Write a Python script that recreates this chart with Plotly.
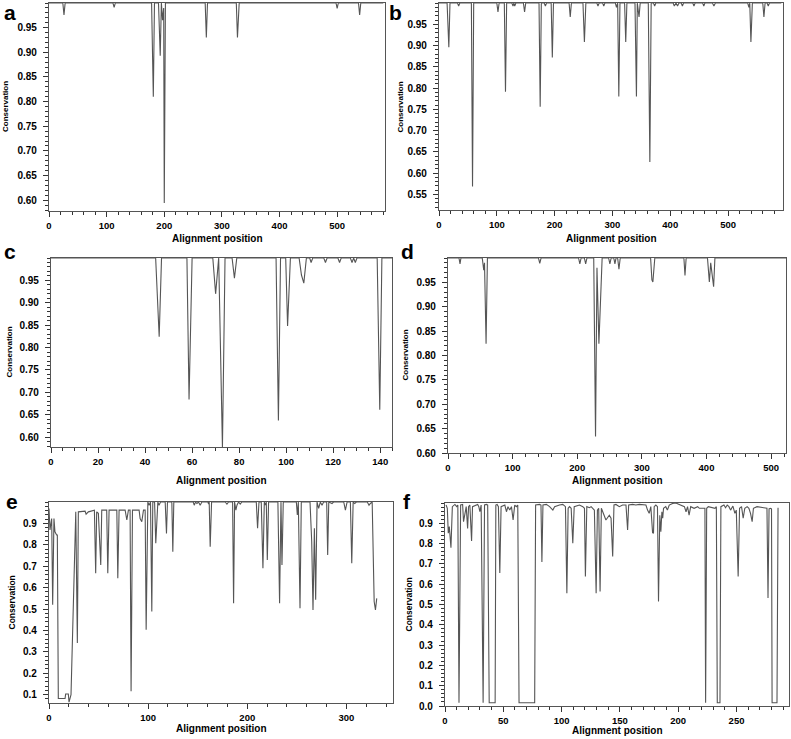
import plotly.graph_objects as go

W, H = 791, 739
FONT = "Liberation Sans, Arial, sans-serif"

# ---------------- data (alignment position, conservation) ----------------
a_pos = [0, 24, 26, 28, 111, 113, 115, 178, 181, 183, 190, 193, 195, 197, 199, 200, 202,
         271, 273, 275, 325, 327, 330, 498, 500, 502, 537, 539, 541, 580]
a_cons = [1, 1, 0.976, 1, 1, 0.991, 1, 1, 0.810, 1, 1, 0.893, 1, 0.965, 0.99, 0.594, 1,
          1, 0.930, 1, 1, 0.930, 1, 1, 0.989, 1, 1, 0.976, 1, 1]

b_pos = [0, 14, 17, 19, 32, 34, 36, 56, 58, 60, 100, 102, 104, 113, 115, 117, 126, 128, 129.5,
         131, 133, 146, 148, 150, 173, 175, 177, 182, 184, 186, 194, 196, 198, 225, 227, 229,
         249, 251.5, 254, 273, 275, 277, 283, 285, 287, 305, 307, 309, 311, 313, 321, 323, 325,
         339, 341.5, 343, 346, 348, 362, 364.7, 367, 371, 373, 375, 405, 407, 410, 412.6, 415,
         419, 421, 423, 439, 441, 443, 456, 458, 460, 473, 475.5, 478, 534, 536, 537.5, 539.5,
         542, 560, 562, 564, 567.5, 569.5, 571.5, 592]
b_cons = [1, 1, 0.896, 1, 1, 0.993, 1, 1, 0.568, 1, 1, 0.979, 1, 1, 0.791, 1, 1, 0.993, 1,
          0.993, 1, 1, 0.979, 1, 1, 0.756, 1, 1, 0.993, 1, 1, 0.872, 1, 1, 0.967, 1,
          1, 0.908, 1, 1, 0.993, 1, 1, 0.993, 1, 1, 0.99, 1, 0.780, 1, 1, 0.908, 1,
          1, 0.780, 1, 0.967, 1, 1, 0.626, 1, 1, 0.993, 1, 1, 0.993, 1, 0.993, 1,
          1, 0.993, 1, 1, 0.993, 1, 1, 0.993, 1, 1, 0.993, 1, 1, 0.99, 1, 0.908,
          1, 1, 0.967, 1, 1, 0.993, 1, 1]

c_pos = [0, 44.5, 46, 47, 57.8, 58.7, 60, 68.8, 70, 71.3, 72.9, 74, 77, 78, 79, 95.7, 96.7, 97.6,
         99.8, 100.6, 101.8, 105.5, 106.5, 107.5, 108.6, 110, 110.6, 111.3, 116, 116.7, 117.4,
         122, 122.7, 123.4, 127.3, 128, 128.7, 129.4, 130.1, 138.7, 139.8, 140.7, 145]
c_cons = [1, 1, 0.824, 1, 1, 0.684, 1, 1, 0.920, 1, 0.578, 1, 1, 0.955, 1, 1, 0.637, 1,
          1, 0.848, 1, 1, 0.962, 0.944, 1, 1, 0.99, 1, 1, 0.99, 1,
          1, 0.99, 1, 1, 0.99, 1, 0.99, 1, 1, 0.661, 1, 1]

d_pos = [0, 17, 18.6, 20, 53, 55.3, 56.5, 58.9, 61, 140, 142, 144, 202, 204, 206, 211, 213, 215,
         225.5, 228.3, 230.5, 233.5, 238.5, 248.5, 250.5, 252.5, 256.5, 258.3, 260, 262.5,
         264.5, 266.5, 313.5, 315.5, 317, 320, 365, 366.7, 368.5, 401.5, 404.4, 406.5, 411,
         413, 523]
d_cons = [1, 1, 0.988, 1, 1, 0.975, 0.99, 0.824, 1, 1, 0.989, 1, 1, 0.988, 1, 1, 0.988, 1,
          1, 0.634, 0.98, 0.824, 1, 1, 0.988, 1, 1, 0.988, 1, 1,
          0.977, 1, 1, 0.955, 0.951, 1, 1, 0.964, 1, 1, 0.951, 0.99, 0.941,
          1, 1]

e_pos = [0, 1, 2.7, 3.7, 5, 6, 7.7, 8.4, 9.4, 16.2, 16.8, 19.5, 20.2, 22.2, 27, 28.6, 29.6,
         36.4, 37.4, 39.7, 45.8, 47.1, 48.1, 49.8, 52.2, 53.2, 58.2, 59.3, 60.6, 68.4, 69.4,
         70.7, 76.8, 78.5, 80.1, 81.8, 82.8, 84.2, 90.9, 91.9, 93.6, 95.3, 97, 98, 99.7, 101,
         102.4, 103.7, 104.7, 106.5, 107.7, 109.8, 111, 112.5, 117.2, 118.5, 119.5, 123.9,
         124.9, 125.9, 145.5, 146.5, 147.8, 149.2, 150.8, 152.5, 154.2, 160.3, 161, 161.6,
         162.6, 164, 177.8, 179.5, 181.1, 185.2, 186.2, 187.2, 188.5, 189.6, 191.2, 192.9,
         194.5, 209.1, 210.4, 211.8, 214.1, 215.8, 217.2, 218.2, 219.2, 220.2, 221.5, 230.9,
         232.6, 234, 235, 236.3, 249.5, 250.5, 251.5, 253.2, 254.5, 263.3, 265, 266.3, 267.7,
         269, 270.4, 272, 273.7, 275.4, 277, 280.1, 281.1, 282.2, 285.5, 287, 297.3, 299,
         300.7, 304, 305.4, 306.8, 308.4, 310, 321.1, 322.8, 324.2, 326, 328, 329.3, 330.6]
e_cons = [0.97, 0.869, 0.923, 0.52, 0.923, 0.861, 0.846, 0.846, 0.082, 0.082, 0.103, 0.103,
          0.065, 0.10, 0.954, 0.341, 0.954, 0.957, 0.943, 0.954, 0.962, 0.667, 0.954, 0.947,
          0.706, 0.962, 0.962, 0.667, 0.962, 0.962, 0.644, 0.962, 0.962, 0.916, 0.962, 0.962,
          0.116, 0.962, 0.962, 0.923, 0.908, 0.962, 0.962, 0.403, 1.0, 0.985, 1.0, 0.489, 1.0,
          1.0, 0.807, 1.0, 0.985, 1.0, 1.0, 0.853, 1.0, 1.0, 0.768, 1.0, 1.0, 0.985, 1.0,
          0.993, 1.0, 0.985, 1.0, 1.0, 0.99, 1.0, 0.791, 1.0, 1.0, 0.99, 1.0, 1.0, 0.527,
          1.0, 0.962, 0.985, 1.0, 0.99, 1.0, 1.0, 0.877, 1.0, 1.0, 0.69, 1.0, 0.985, 1.0,
          0.729, 1.0, 1.0, 0.527, 1.0, 0.706, 1.0, 1.0, 0.939, 1.0, 0.504, 1.0, 1.0, 0.815,
          0.496, 0.877, 0.543, 1.0, 0.97, 1.0, 0.985, 1.0, 1.0, 0.753, 1.0, 0.993, 1.0, 1.0,
          0.962, 1.0, 1.0, 0.714, 1.0, 0.993, 1.0, 1.0, 0.985, 0.993, 1.0, 0.535, 0.496, 0.55]

f_pos = [0.9, 2, 2.8, 3.7, 5.1, 6.3, 8.5, 10, 11, 12, 13.4, 15.1, 15.9, 17.1, 18.2, 19.4, 20.2,
         21.3, 22.8, 23.6, 26.5, 28, 29, 29.9, 31, 32.7, 33.9, 35.6, 36.6, 37.9, 43, 43.6,
         44.7, 45.8, 47, 48.1, 51.3, 52.7, 54, 55.5, 57, 58.4, 59.8, 61.2, 62.4, 63.5, 76.9,
         77.7, 81.1, 82.3, 83.1, 84, 86.9, 89.7, 92.5, 94, 98.2, 101, 103.3, 104.5, 105.6,
         106.8, 108.2, 109.6, 110.8, 115.3, 118.2, 119.6, 120.4, 121.6, 123.9, 125.3, 126.7,
         128.1, 129.6, 130.7, 131.8, 133, 134.1, 135.3, 136.7, 138, 140.9, 142.4, 143.8, 144.9,
         146.6, 149.5, 152.3, 155.2, 156.6, 157.5, 160.9, 163.7, 166.6, 169.4, 172.3, 173.7,
         175.1, 176.5, 178, 178.8, 179.4, 180.8, 182.2, 183.1, 184.2, 185.1, 186, 186.7,
         187.4, 189.3, 190.7, 192.3, 195.2, 197.9, 200.7, 205.3, 206.7, 208, 209.3, 210.7,
         213.6, 216.7, 218.1, 222.9, 223.5, 224.4, 225.8, 231.5, 232.7, 233.5, 235.8, 236.6,
         239.2, 240.6, 242, 243.5, 244.9, 246.9, 248.6, 249.8, 251.4, 252.6, 254.3, 255.7,
         257.1, 259.1, 260.6, 262, 263.4, 264.5, 267.6, 271.9, 274.7, 276.1, 277, 277.9, 279,
         280, 280.5, 284.7, 285.6]
f_cons = [0.99, 0.974, 0.851, 0.884, 0.78, 0.982, 0.993, 0.982, 0.99, 0.016, 0.99, 0.993,
          0.908, 0.94, 0.982, 0.875, 0.982, 0.99, 0.813, 0.982, 0.99, 0.993, 0.982, 0.957,
          0.99, 0.016, 0.99, 0.993, 0.99, 0.016, 0.016, 0.99, 0.993, 0.982, 0.655, 0.982,
          0.99, 0.957, 0.982, 0.965, 0.982, 0.916, 0.99, 0.982, 0.99, 0.016, 0.016, 0.99,
          0.993, 0.99, 0.71, 0.99, 0.993, 0.982, 0.965, 0.982, 0.99, 0.993, 0.982, 0.556,
          0.974, 0.982, 0.974, 0.802, 0.982, 0.99, 0.982, 0.974, 0.638, 0.982, 0.977, 0.982,
          0.974, 0.965, 0.556, 0.965, 0.974, 0.564, 0.974, 0.957, 0.94, 0.916, 0.94, 0.925,
          0.736, 0.99, 0.993, 0.982, 0.99, 0.99, 0.867, 0.99, 0.993, 0.99, 0.993, 0.99, 0.99,
          0.965, 0.949, 0.982, 0.854, 0.851, 0.982, 0.99, 0.982, 0.515, 0.94, 0.859, 0.957,
          0.925, 0.974, 0.982, 0.965, 0.99, 0.998, 1.0, 0.993, 0.982, 0.957, 0.982, 0.94,
          0.982, 0.974, 0.982, 0.974, 0.974, 0.016, 0.974, 0.982, 0.974, 0.982, 0.016, 0.016,
          0.982, 0.99, 0.977, 0.99, 0.982, 0.965, 0.985, 0.949, 0.965, 0.638, 0.974, 0.982,
          0.925, 0.974, 0.982, 0.974, 0.949, 0.908, 0.974, 0.982, 0.979, 0.974, 0.974, 0.532,
          0.971, 0.974, 0.971, 0.016, 0.016, 0.977]

# tick values
a_xticks = [0, 100, 200, 300, 400, 500]
b_xticks = [0, 100, 200, 300, 400, 500]
c_xticks = [0, 20, 40, 60, 80, 100, 120, 140]
d_xticks = [0, 100, 200, 300, 400, 500]
e_xticks = [0, 100, 200, 300]
f_xticks = [0, 50, 100, 150, 200, 250]
a_yticks = [0.60, 0.65, 0.70, 0.75, 0.80, 0.85, 0.90, 0.95]
b_yticks = [0.55, 0.60, 0.65, 0.70, 0.75, 0.80, 0.85, 0.90, 0.95]
c_yticks = [0.60, 0.65, 0.70, 0.75, 0.80, 0.85, 0.90, 0.95]
d_yticks = [0.60, 0.65, 0.70, 0.75, 0.80, 0.85, 0.90, 0.95]
e_yticks = [0.1, 0.2, 0.3, 0.4, 0.5, 0.6, 0.7, 0.8, 0.9]
f_yticks = [0.0, 0.1, 0.2, 0.3, 0.4, 0.5, 0.6, 0.7, 0.8, 0.9]

# --- panel layout (pixels): plot box [left, right, top, bottom], letter (x, y),
#     x-title y, y-title x, y-title size
panels = [
    dict(letter="a", x=a_pos, y=a_cons, box=(49, 385, 3, 211), xr=[0, 583], yr=[0.578, 1.0],
         xt=a_xticks, xm=20, yt=a_yticks, ym=0.01, fmt=".2f",
         lab=(2, 12.5), xtitle_y=238, ytitle_x=6, ysize=8),
    dict(letter="b", x=b_pos, y=b_cons, box=(439, 783, 3, 210), xr=[0, 595], yr=[0.513, 1.0],
         xt=b_xticks, xm=20, yt=b_yticks, ym=0.01, fmt=".2f",
         lab=(387, 12.5), xtitle_y=238, ytitle_x=400, ysize=8),
    dict(letter="c", x=c_pos, y=c_cons, box=(51, 392, 258, 447), xr=[0, 145], yr=[0.578, 1.0],
         xt=c_xticks, xm=5, yt=c_yticks, ym=0.01, fmt=".2f",
         lab=(2, 251), xtitle_y=480, ytitle_x=9, ysize=8),
    dict(letter="d", x=d_pos, y=d_cons, box=(448, 786, 258, 453), xr=[0, 523], yr=[0.60, 1.0],
         xt=d_xticks, xm=20, yt=d_yticks, ym=0.01, fmt=".2f",
         lab=(399, 251), xtitle_y=480, ytitle_x=405, ysize=8),
    dict(letter="e", x=e_pos, y=e_cons, box=(49, 393, 502, 703), xr=[0, 347], yr=[0.061, 1.0],
         xt=e_xticks, xm=20, yt=e_yticks, ym=0.02, fmt=".1f",
         lab=(4, 501), xtitle_y=728, ytitle_x=11, ysize=8.5),
    dict(letter="f", x=f_pos, y=f_cons, box=(445, 789, 503, 706), xr=[0, 295], yr=[0.0, 1.0],
         xt=f_xticks, xm=10, yt=f_yticks, ym=0.02, fmt=".1f",
         lab=(401, 501), xtitle_y=730, ytitle_x=408, ysize=8.5),
]

fig = go.Figure()
annotations = []
xtickfont = dict(family=FONT, size=9.5, color="black", weight="bold")
ytickfont = dict(family=FONT, size=10, color="black", weight="bold")

for i, p in enumerate(panels):
    n = "" if i == 0 else str(i + 1)
    left, right, top, bottom = p["box"]
    fig.add_trace(go.Scatter(
        x=p["x"], y=p["y"], mode="lines",
        line=dict(color="#555555", width=1.1),
        xaxis="x" + n, yaxis="y" + n, showlegend=False, hoverinfo="x+y",
    ))
    common = dict(
        showline=True, mirror=True, linecolor="#555555", linewidth=1.2,
        ticks="outside", ticklen=5, tickwidth=1, tickcolor="#333333",
        showgrid=False, zeroline=False, automargin=False,
    )
    fig.layout["xaxis" + n] = dict(
        domain=[left / W, right / W], range=p["xr"], anchor="y" + n,
        tickvals=p["xt"], tickfont=xtickfont,
        minor=dict(ticks="outside", ticklen=3, dtick=p["xm"], tick0=0,
                   tickcolor="#333333", showgrid=False),
        **common,
    )
    fig.layout["yaxis" + n] = dict(
        domain=[1 - bottom / H, 1 - top / H], range=p["yr"], anchor="x" + n,
        tickvals=p["yt"], tickformat=p["fmt"], ticklabelstandoff=4, tickfont=ytickfont,
        minor=dict(ticks="outside", ticklen=3, dtick=p["ym"], tick0=0,
                   tickcolor="#333333", showgrid=False),
        **common,
    )
    # panel letter
    lx, ly = p["lab"]
    annotations.append(dict(
        text=p["letter"], xref="paper", yref="paper", showarrow=False,
        x=lx / W, y=1 - ly / H, xanchor="left", yanchor="middle",
        font=dict(family=FONT, size=21, color="black", weight="bold"),
    ))
    # axis titles
    annotations.append(dict(
        text="Alignment position", xref="paper", yref="paper", showarrow=False,
        x=(left + right) / 2 / W, y=1 - p["xtitle_y"] / H,
        xanchor="center", yanchor="middle",
        font=dict(family=FONT, size=10, color="black", weight="bold"),
    ))
    annotations.append(dict(
        text="Conservation", xref="paper", yref="paper", showarrow=False,
        x=p["ytitle_x"] / W, y=1 - (top + bottom) / 2 / H, textangle=-90,
        xanchor="center", yanchor="middle",
        font=dict(family=FONT, size=p["ysize"], color="black", weight="bold"),
    ))

fig.update_layout(
    width=W, height=H,
    margin=dict(l=0, r=0, t=0, b=0),
    paper_bgcolor="white", plot_bgcolor="white",
    annotations=annotations,
)

# drop the default page margin so the figure sits at the window's top-left corner
fig.write_html("out.html", config={"displayModeBar": False},
               post_script="document.body.style.margin='0px';")
